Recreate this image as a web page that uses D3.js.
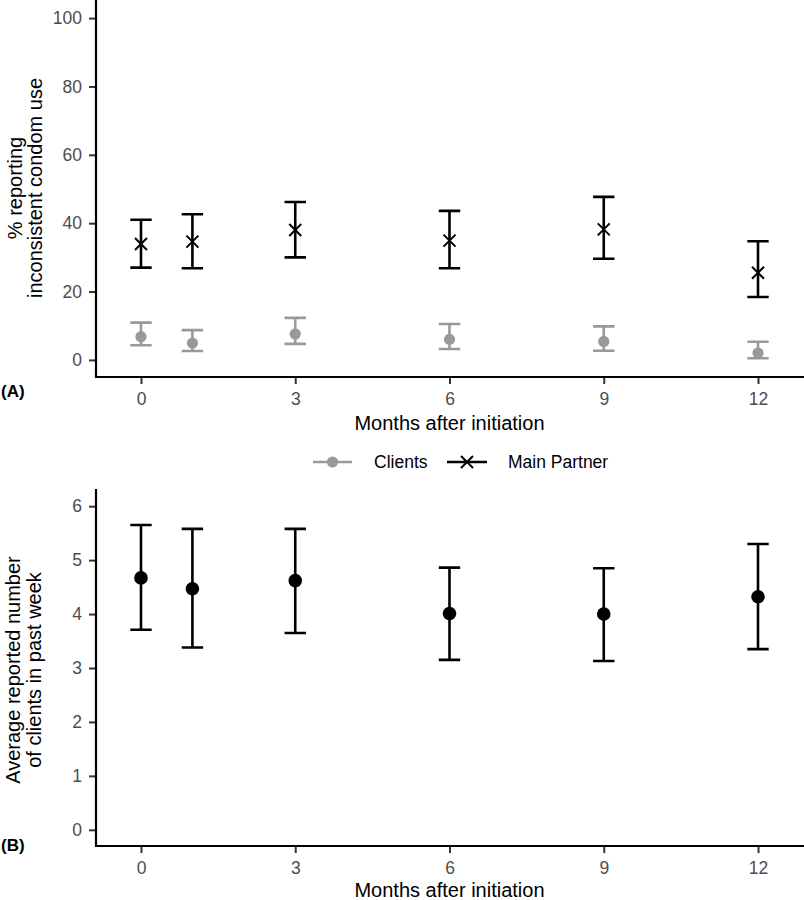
<!DOCTYPE html>
<html>
<head>
<meta charset="utf-8">
<script src="https://cdn.jsdelivr.net/npm/d3@7"></script>
<style>
  html, body { margin: 0; padding: 0; background: #fff; }
  svg { display: block; font-family: "Liberation Sans", Arial, Helvetica, sans-serif; }
</style>
</head>
<body>
<svg id="chart" width="804" height="900"></svg>
<script>
// ---------------- data ----------------
const months = [0, 1, 3, 6, 9, 12];
const xTicks = [0, 3, 6, 9, 12];

const partnerMean = [33.9, 34.6, 38.0, 34.9, 38.2, 25.5];
const partnerLow  = [27.0, 26.8, 30.0, 26.8, 29.6, 18.4];
const partnerHigh = [41.0, 42.6, 46.2, 43.6, 47.7, 34.7];

const clientMean = [6.8, 4.9, 7.6, 6.0, 5.4, 2.0];
const clientLow  = [4.3, 2.6, 4.7, 3.2, 2.7, 0.5];
const clientHigh = [10.9, 8.7, 12.3, 10.5, 9.8, 5.3];

const numMean = [4.67, 4.47, 4.62, 4.01, 4.00, 4.32];
const numLow  = [3.71, 3.38, 3.65, 3.15, 3.13, 3.35];
const numHigh = [5.65, 5.58, 5.58, 4.86, 4.85, 5.30];

const yTicksA = [0, 20, 40, 60, 80, 100];
const yTicksB = [0, 1, 2, 3, 4, 5, 6];

const seriesNames = ["Clients", "Main Partner"];

// ---------------- setup ----------------
const svg = d3.select("#chart");
const GREY = "#999999";
const BLACK = "#000000";
const TICK_COL = "#333333";
const TICK_TXT = "#4d4d4d";

const x = d3.scaleLinear().domain([-0.875, 12.875]).range([96, 803]);
const yA = d3.scaleLinear().domain([-5, 105]).range([377, 1]);
const yB = d3.scaleLinear().domain([-0.3, 6.3]).range([846, 490]);

function styleAxis(g) {
  g.select(".domain").remove();
  g.selectAll(".tick line").attr("stroke", TICK_COL).attr("stroke-width", 2);
  g.selectAll(".tick text").attr("fill", TICK_TXT).attr("font-size", 17.5);
}

function drawPanel(y, yTicks, yTop, yBottom) {
  const gy = svg.append("g").attr("transform", `translate(96,0)`)
    .call(d3.axisLeft(y).tickValues(yTicks).tickSize(7).tickPadding(7).tickFormat(d3.format("d")));
  styleAxis(gy);
  const gx = svg.append("g").attr("transform", `translate(0,${yBottom})`)
    .call(d3.axisBottom(x).tickValues(xTicks).tickSize(7).tickPadding(9).tickFormat(d3.format("d")));
  styleAxis(gx);
  svg.append("path")
    .attr("d", `M96,${yTop}V${yBottom}H803`)
    .attr("fill", "none").attr("stroke", BLACK).attr("stroke-width", 2.2)
    .attr("stroke-linecap", "square");
}

function errorbars(y, mean, low, high, color) {
  const cap = 10.7;
  const g = svg.append("g");
  months.forEach((m, i) => {
    const cx = x(m);
    g.append("path")
      .attr("d", `M${cx},${y(high[i])}V${y(low[i])}M${cx - cap},${y(high[i])}H${cx + cap}M${cx - cap},${y(low[i])}H${cx + cap}`)
      .attr("fill", "none").attr("stroke", color).attr("stroke-width", 2.6);
  });
  return g;
}

function dots(y, mean, color, r) {
  svg.append("g").selectAll("circle").data(months).join("circle")
    .attr("cx", d => x(d))
    .attr("cy", (d, i) => y(mean[i]))
    .attr("r", r).attr("fill", color);
}

function crosses(y, mean, color, s) {
  svg.append("g").selectAll("path").data(months).join("path")
    .attr("d", (d, i) => {
      const cx = x(d), cy = y(mean[i]);
      return `M${cx - s},${cy - s}L${cx + s},${cy + s}M${cx - s},${cy + s}L${cx + s},${cy - s}`;
    })
    .attr("stroke", color).attr("stroke-width", 2).attr("fill", "none");
}

// ---------------- panel A ----------------
drawPanel(yA, yTicksA, 0, 377);
errorbars(yA, clientMean, clientLow, clientHigh, GREY);
dots(yA, clientMean, GREY, 5.6);
errorbars(yA, partnerMean, partnerLow, partnerHigh, BLACK);
crosses(yA, partnerMean, BLACK, 6);

svg.append("text")
  .attr("transform", "translate(21.5,188) rotate(-90)")
  .attr("text-anchor", "middle").attr("font-size", 20).attr("fill", BLACK)
  .text("% reporting");
svg.append("text")
  .attr("transform", "translate(41.5,188) rotate(-90)")
  .attr("text-anchor", "middle").attr("font-size", 20).attr("fill", BLACK)
  .text("inconsistent condom use");
svg.append("text")
  .attr("x", 449.5).attr("y", 430)
  .attr("text-anchor", "middle").attr("font-size", 20).attr("fill", BLACK)
  .text("Months after initiation");
svg.append("text")
  .attr("x", 1).attr("y", 397)
  .attr("font-size", 17).attr("font-weight", "bold").attr("fill", BLACK)
  .text("(A)");

// ---------------- legend ----------------
const legY = 462;
const leg = svg.append("g");
leg.append("line").attr("x1", 313).attr("x2", 352).attr("y1", legY).attr("y2", legY)
  .attr("stroke", GREY).attr("stroke-width", 2.6);
leg.append("circle").attr("cx", 332.5).attr("cy", legY).attr("r", 5.6).attr("fill", GREY);
leg.append("text").attr("x", 374).attr("y", legY + 6).attr("font-size", 17.5).attr("fill", BLACK)
  .text(seriesNames[0]);
leg.append("line").attr("x1", 447).attr("x2", 487).attr("y1", legY).attr("y2", legY)
  .attr("stroke", BLACK).attr("stroke-width", 2.6);
leg.append("path")
  .attr("d", `M461,${legY - 6}L473,${legY + 6}M461,${legY + 6}L473,${legY - 6}`)
  .attr("stroke", BLACK).attr("stroke-width", 2);
leg.append("text").attr("x", 508).attr("y", legY + 6).attr("font-size", 17.5).attr("fill", BLACK)
  .text(seriesNames[1]);

// ---------------- panel B ----------------
drawPanel(yB, yTicksB, 490, 846);
errorbars(yB, numMean, numLow, numHigh, BLACK);
dots(yB, numMean, BLACK, 6.8);

svg.append("text")
  .attr("transform", "translate(20,670) rotate(-90)")
  .attr("text-anchor", "middle").attr("font-size", 20).attr("fill", BLACK)
  .text("Average reported number");
svg.append("text")
  .attr("transform", "translate(41,670) rotate(-90)")
  .attr("text-anchor", "middle").attr("font-size", 20).attr("fill", BLACK)
  .text("of clients in past week");
svg.append("text")
  .attr("x", 449.5).attr("y", 897)
  .attr("text-anchor", "middle").attr("font-size", 20).attr("fill", BLACK)
  .text("Months after initiation");
svg.append("text")
  .attr("x", 1).attr("y", 851)
  .attr("font-size", 17).attr("font-weight", "bold").attr("fill", BLACK)
  .text("(B)");
</script>
</body>
</html>
